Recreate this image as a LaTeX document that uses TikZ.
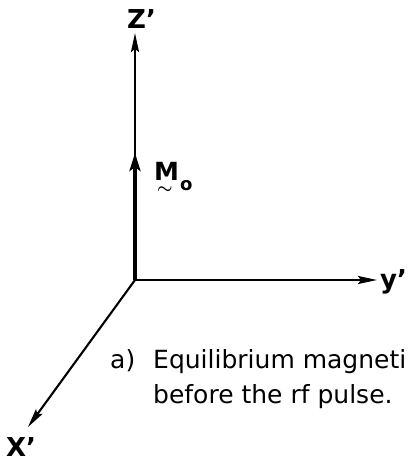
\documentclass[tikz,border=0pt]{standalone}
\usepackage{amsmath}
\usepackage{fontspec}
\setmainfont{DejaVu Sans}
\usepackage{tikz}
\usetikzlibrary{arrows.meta, positioning}
\tikzstyle{axis} = [line width=2.1pt, -{Stealth[length=19pt, width=8pt, inset=3pt]}]
\tikzstyle{vector} = [line width=3.8pt, -{Stealth[length=18pt, width=11pt, inset=4pt]}]
\tikzstyle{axlabel} = [font=\fontsize{26}{28}\selectfont\bfseries, inner sep=0pt, anchor=base west]
\tikzstyle{caption} = [font=\fontsize{25}{35}\selectfont, align=left, inner sep=0pt, anchor=base west]

\begin{document}
\begin{tikzpicture}[x=1pt, y=-1pt]
\useasboundingbox (0,0) rectangle (409,464);
\fill[white] (0,0) rectangle (409,464);

% ===== AXES =====
\coordinate (origin) at (135,280);
\coordinate (ztip) at (135,33);
\coordinate (ytip) at (377,280);
\coordinate (xtip) at (28,427);
\coordinate (mtip) at (135,153);

\node (zlabel) [axlabel] at (127,28) {Z'};
\node (ylabel) [axlabel] at (380,288) {y'};
\node (xlabel) [axlabel] at (6,456) {X'};

\draw [axis] (origin) -- (ztip);
\draw [axis] (origin) -- (ytip);
\draw [axis] (origin) -- (xtip);

% ===== MAGNETIZATION =====
\draw [vector] (origin) -- (mtip);
\node (mlabel) [axlabel, font=\fontsize{25}{27}\selectfont\bfseries] at (154,180)
  {\rlap{\raisebox{-13pt}{\hspace{3pt}\fontsize{16}{16}\selectfont$\boldsymbol{\sim}$}}M\hspace{1pt}\raisebox{-10pt}{\fontsize{18}{18}\selectfont o}};

% ===== CAPTION =====
\node (caption) [caption] at (110,403) {\makebox[43pt][l]{a)}Equilibrium magneti\\\hspace*{43pt}before the rf pulse.};

\end{tikzpicture}
\end{document}
